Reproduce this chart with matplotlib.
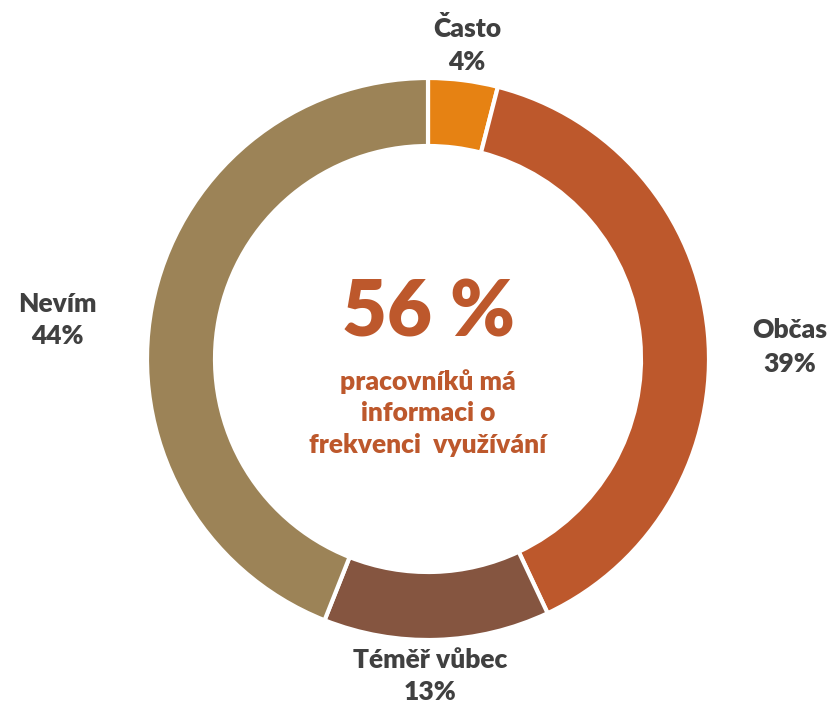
import matplotlib.pyplot as plt

# data
labels = ["Často", "Občas", "Téměř vůbec", "Nevím"]
values = [4, 39, 13, 44]
colors = ["#E68213", "#BD582C", "#855540", "#9C8357"]
center_big = "56 %"
center_text = "pracovníků má\ninformaci o\nfrekvenci  využívání"

plt.rcParams["font.family"] = ["Lato", "DejaVu Sans"]

W, H = 839, 707
fig = plt.figure(figsize=(W / 100, H / 100), dpi=100)
ax = fig.add_axes([0, 0, 1, 1])

cx, cy = 428, H - 359
r_out, ring = 281, 68

ax.pie(values, colors=colors, startangle=90, counterclock=False,
       center=(cx, cy), radius=r_out, frame=True,
       wedgeprops=dict(width=ring, edgecolor="white", linewidth=3))
ax.set_xlim(0, W)
ax.set_ylim(0, H)
ax.set_aspect("equal")
ax.axis("off")

label_pos = [(467, 45), (790, 347), (430, 676), (57, 320)]
for lab, v, (x, y) in zip(labels, values, label_pos):
    ax.text(x, H - y, f"{lab}\n{v}%", ha="center", va="center", fontsize=19,
            fontweight="heavy", color="#404040", linespacing=1.45)

ax.text(428, H - 314, center_big, ha="center", va="center", fontsize=56,
        fontweight="heavy", color="#BD582C")
ax.text(428, H - 413, center_text, ha="center", va="center", fontsize=19,
        fontweight="heavy", color="#BD582C", linespacing=1.38)

fig.savefig("out.png", dpi=100, facecolor="white")
